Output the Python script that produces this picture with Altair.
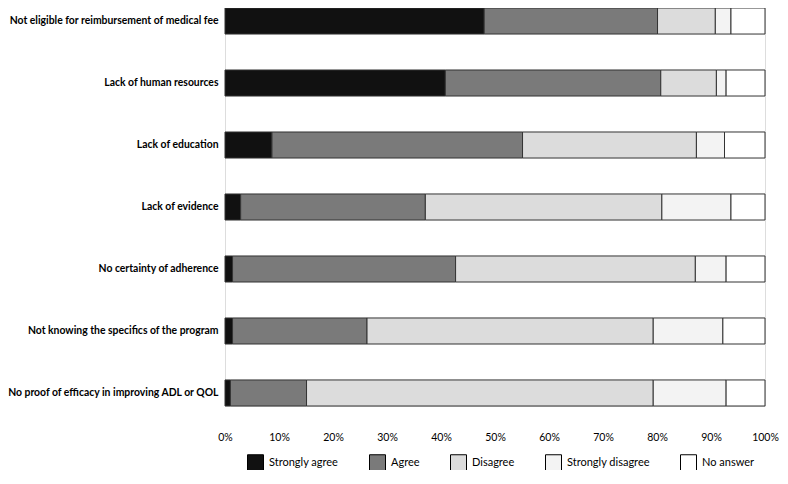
import altair as alt
import pandas as pd

barriers = [
    "Not eligible for reimbursement of medical fee",
    "Lack of human resources",
    "Lack of education",
    "Lack of evidence",
    "No certainty of adherence",
    "Not knowing the specifics of the program",
    "No proof of efficacy in improving ADL or QOL",
]
responses = ["Strongly agree", "Agree", "Disagree", "Strongly disagree", "No answer"]

strongly_agree = [48.0, 40.8, 8.7, 2.9, 1.4, 1.4, 1.0]
agree = [32.1, 39.9, 46.4, 34.2, 41.3, 24.9, 14.1]
disagree = [10.7, 10.3, 32.2, 43.8, 44.4, 53.0, 64.2]
strongly_disagree = [2.9, 1.8, 5.2, 12.8, 5.7, 12.9, 13.5]
no_answer = [6.3, 7.2, 7.5, 6.3, 7.2, 7.8, 7.2]

series = [strongly_agree, agree, disagree, strongly_disagree, no_answer]
rows = []
for ri, (resp, vals) in enumerate(zip(responses, series)):
    for b, v in zip(barriers, vals):
        rows.append({"barrier": b, "response": resp, "value": v, "order": ri})
df = pd.DataFrame(rows)

fills = ["#111111", "#7a7a7a", "#dcdcdc", "#f3f3f3", "#ffffff"]
FONT = "Lato"

chart = (
    alt.Chart(df)
    .mark_bar(stroke="#333333", strokeWidth=1)
    .encode(
        x=alt.X(
            "value:Q",
            stack="normalize",
            scale=alt.Scale(domain=[0, 1], nice=False),
            axis=alt.Axis(
                format=".0%",
                values=[i / 10 for i in range(11)],
                title=None,
                grid=False,
                domain=False,
                ticks=False,
                labelPadding=26,
                labelFontSize=10.5,
                labelColor="#000000",
                labelFont=FONT,
                labelFlush=False,
            ),
        ),
        y=alt.Y(
            "barrier:N",
            sort=barriers,
            scale=alt.Scale(paddingInner=0.58, paddingOuter=0),
            axis=alt.Axis(
                title=None,
                domain=False,
                ticks=False,
                labelPadding=7,
                labelFontSize=10.4,
                labelFontWeight="bold",
                labelColor="#000000",
                labelFont=FONT,
                labelLimit=300,
            ),
        ),
        color=alt.Color(
            "response:N",
            sort=responses,
            scale=alt.Scale(domain=responses, range=fills),
            legend=alt.Legend(
                title=None,
                orient="none",
                legendX=22,
                legendY=446,
                direction="horizontal",
                columns=5,
                columnPadding=28,
                symbolType="square",
                symbolSize=256,
                symbolStrokeColor="#000000",
                symbolStrokeWidth=1,
                labelFontSize=11,
                labelFont=FONT,
                labelColor="#000000",
                labelOffset=5,
                padding=0,
            ),
        ),
        order=alt.Order("order:Q", sort="ascending"),
    )
    .properties(
        width=540,
        height=398,
        autosize=alt.AutoSizeParams(type="none"),
        padding={"left": 217, "top": 0, "right": 15, "bottom": 64},
    )
    .configure_view(stroke=None)
    .configure(font=FONT)
)

chart.save("out.html", embed_options={"renderer": "svg", "actions": False})
